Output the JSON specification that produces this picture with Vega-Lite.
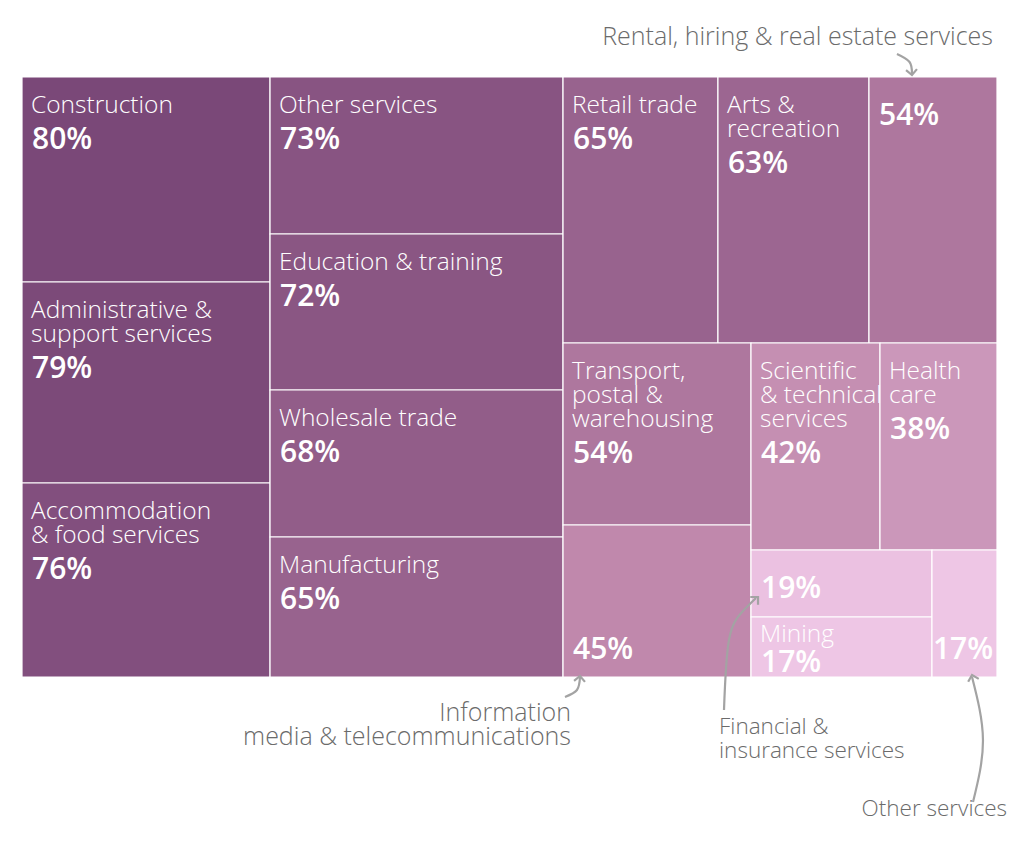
{
  "$schema": "https://vega.github.io/schema/vega-lite/v6.json",
  "width": 975,
  "height": 600,
  "autosize": {"type": "none"},
  "padding": {"left": 22, "top": 77, "right": 27, "bottom": 172},
  "background": "white",
  "config": {"view": {"stroke": null}, "font": "Open Sans"},
  "datasets": {
    "cells": [
      {"name": "Construction", "pct": 80, "lines": 1, "pos": "top", "x0": 0, "x1": 25.44, "y0": 0, "y1": 34.17},
      {"name": "Administrative &\nsupport services", "pct": 79, "lines": 2, "pos": "top", "x0": 0, "x1": 25.44, "y0": 34.17, "y1": 67.67},
      {"name": "Accommodation\n& food services", "pct": 76, "lines": 2, "pos": "top", "x0": 0, "x1": 25.44, "y0": 67.67, "y1": 100},
      {"name": "Other services", "pct": 73, "lines": 1, "pos": "top", "x0": 25.44, "x1": 55.49, "y0": 0, "y1": 26.17},
      {"name": "Education & training", "pct": 72, "lines": 1, "pos": "top", "x0": 25.44, "x1": 55.49, "y0": 26.17, "y1": 52.17},
      {"name": "Wholesale trade", "pct": 68, "lines": 1, "pos": "top", "x0": 25.44, "x1": 55.49, "y0": 52.17, "y1": 76.67},
      {"name": "Manufacturing", "pct": 65, "lines": 1, "pos": "top", "x0": 25.44, "x1": 55.49, "y0": 76.67, "y1": 100},
      {"name": "Retail trade", "pct": 65, "lines": 1, "pos": "top", "x0": 55.49, "x1": 71.38, "y0": 0, "y1": 44.33},
      {"name": "Arts &\nrecreation", "pct": 63, "lines": 2, "pos": "top", "x0": 71.38, "x1": 86.87, "y0": 0, "y1": 44.33},
      {"name": "", "pct": 54, "lines": 0, "pos": "top", "x0": 86.87, "x1": 100, "y0": 0, "y1": 44.33},
      {"name": "Transport,\npostal &\nwarehousing", "pct": 54, "lines": 3, "pos": "top", "x0": 55.49, "x1": 74.77, "y0": 44.33, "y1": 74.67},
      {"name": "", "pct": 45, "lines": 0, "pos": "bottom", "x0": 55.49, "x1": 74.77, "y0": 74.67, "y1": 100},
      {"name": "Scientific\n& technical\nservices", "pct": 42, "lines": 3, "pos": "top", "x0": 74.77, "x1": 88.0, "y0": 44.33, "y1": 78.83},
      {"name": "Health\ncare", "pct": 38, "lines": 2, "pos": "top", "x0": 88.0, "x1": 100, "y0": 44.33, "y1": 78.83},
      {"name": "", "pct": 19, "lines": 0, "pos": "top", "x0": 74.77, "x1": 93.33, "y0": 78.83, "y1": 90},
      {"name": "Mining", "pct": 17, "lines": 1, "pos": "bottom", "x0": 74.77, "x1": 93.33, "y0": 90, "y1": 100},
      {"name": "", "pct": 17, "lines": 0, "pos": "bottom", "x0": 93.33, "x1": 100, "y0": 78.83, "y1": 100}
    ],
    "notesBig": [
      {"text": "Rental, hiring & real estate services", "x": 99.59, "y": -5.33},
      {"text": "Information\nmedia & telecommunications", "x": 56.31, "y": 107.33}
    ],
    "notesSmallRight": [
      {"text": "Other services", "x": 101.03, "y": 123.17}
    ],
    "notesLeft": [
      {"text": "Financial &\ninsurance services", "x": 71.49, "y": 109.5}
    ],
    "arrows": [
      {"a": "rental", "i": 0, "x": 89.74, "y": -3.83},
      {"a": "rental", "i": 1, "x": 91.03, "y": -2.5},
      {"a": "rental", "i": 2, "x": 91.28, "y": -0.5},
      {"a": "info", "i": 0, "x": 55.69, "y": 103.33},
      {"a": "info", "i": 1, "x": 56.92, "y": 102.17},
      {"a": "info", "i": 2, "x": 57.23, "y": 100.0},
      {"a": "fin", "i": 0, "x": 72.0, "y": 105.5},
      {"a": "fin", "i": 1, "x": 72.51, "y": 93.83},
      {"a": "fin", "i": 2, "x": 73.85, "y": 89.17},
      {"a": "fin", "i": 3, "x": 75.28, "y": 86.83},
      {"a": "other", "i": 0, "x": 97.54, "y": 120.83},
      {"a": "other", "i": 1, "x": 98.56, "y": 110.5},
      {"a": "other", "i": 2, "x": 97.44, "y": 100.0}
    ],
    "heads": [
      {"a": "rental", "x": 91.28, "y": -0.33, "angle": 175},
      {"a": "info", "x": 57.23, "y": 99.83, "angle": 5},
      {"a": "fin", "x": 75.49, "y": 86.67, "angle": 45},
      {"a": "other", "x": 97.44, "y": 99.67, "angle": -15}
    ]
  },
  "layer": [
    {
      "data": {"name": "cells"},
      "mark": {"type": "rect", "stroke": "white", "strokeWidth": 1.2},
      "encoding": {
        "x": {"field": "x0", "type": "quantitative", "scale": {"domain": [0, 100], "nice": false, "zero": false}, "axis": null},
        "x2": {"field": "x1"},
        "y": {"field": "y0", "type": "quantitative", "scale": {"domain": [0, 100], "nice": false, "zero": false, "reverse": true}, "axis": null},
        "y2": {"field": "y1"},
        "color": {"field": "pct", "type": "quantitative", "scale": {"domain": [17, 45, 80], "range": ["#eec6e5", "#c088ac", "#7a4878"]}, "legend": null}
      }
    },
    {
      "data": {"name": "cells"},
      "transform": [
        {"filter": "datum.name != ''"},
        {"calculate": "datum.pos == 'top' ? datum.y0 + 36/6 : datum.y1 - 35/6", "as": "ny"},
        {"calculate": "datum.x0 + 9/9.75", "as": "lx"}
      ],
      "mark": {"type": "text", "align": "left", "baseline": "alphabetic", "fontSize": 24.5, "fontWeight": 300, "lineBreak": "\n", "lineHeight": 24, "color": "white"},
      "encoding": {
        "x": {"field": "lx", "type": "quantitative"},
        "y": {"field": "ny", "type": "quantitative"},
        "text": {"field": "name"}
      }
    },
    {
      "data": {"name": "cells"},
      "transform": [
        {"calculate": "datum.pos == 'top' ? datum.y0 + (datum.lines == 0 ? 48 : 72 + 24 * (datum.lines - 1)) / 6 : datum.y1 - (datum.lines == 0 ? 18 : 5) / 6", "as": "py"},
        {"calculate": "datum.x0 + ((datum.x1 - datum.x0) < 8 ? 1 : 10) / 9.75", "as": "lx"},
        {"calculate": "datum.pct + '%'", "as": "plabel"}
      ],
      "mark": {"type": "text", "align": "left", "baseline": "alphabetic", "fontSize": 30, "fontWeight": 600, "color": "white"},
      "encoding": {
        "x": {"field": "lx", "type": "quantitative"},
        "y": {"field": "py", "type": "quantitative"},
        "text": {"field": "plabel"}
      }
    },
    {
      "data": {"name": "arrows"},
      "mark": {"type": "line", "interpolate": "natural", "color": "#a3a3a3", "strokeWidth": 2.2, "clip": false},
      "encoding": {
        "x": {"field": "x", "type": "quantitative"},
        "y": {"field": "y", "type": "quantitative"},
        "detail": {"field": "a"},
        "order": {"field": "i", "type": "quantitative"}
      }
    },
    {
      "data": {"name": "heads"},
      "mark": {"type": "point", "shape": "M -1 1 L 0 0 L 1 1", "filled": false, "stroke": "#a3a3a3", "strokeWidth": 2.2, "size": 120, "opacity": 1, "clip": false},
      "encoding": {
        "x": {"field": "x", "type": "quantitative"},
        "y": {"field": "y", "type": "quantitative"},
        "angle": {"field": "angle", "type": "quantitative", "scale": null}
      }
    },
    {
      "data": {"name": "notesBig"},
      "mark": {"type": "text", "align": "right", "baseline": "alphabetic", "fontSize": 25, "fontWeight": 300, "lineBreak": "\n", "lineHeight": 24, "color": "#6b6b6b", "clip": false},
      "encoding": {
        "x": {"field": "x", "type": "quantitative"},
        "y": {"field": "y", "type": "quantitative"},
        "text": {"field": "text"}
      }
    },
    {
      "data": {"name": "notesSmallRight"},
      "mark": {"type": "text", "align": "right", "baseline": "alphabetic", "fontSize": 22.5, "fontWeight": 300, "color": "#6b6b6b", "clip": false},
      "encoding": {
        "x": {"field": "x", "type": "quantitative"},
        "y": {"field": "y", "type": "quantitative"},
        "text": {"field": "text"}
      }
    },
    {
      "data": {"name": "notesLeft"},
      "mark": {"type": "text", "align": "left", "baseline": "alphabetic", "fontSize": 22.5, "fontWeight": 300, "lineBreak": "\n", "lineHeight": 24, "color": "#6b6b6b", "clip": false},
      "encoding": {
        "x": {"field": "x", "type": "quantitative"},
        "y": {"field": "y", "type": "quantitative"},
        "text": {"field": "text"}
      }
    }
  ]
}
